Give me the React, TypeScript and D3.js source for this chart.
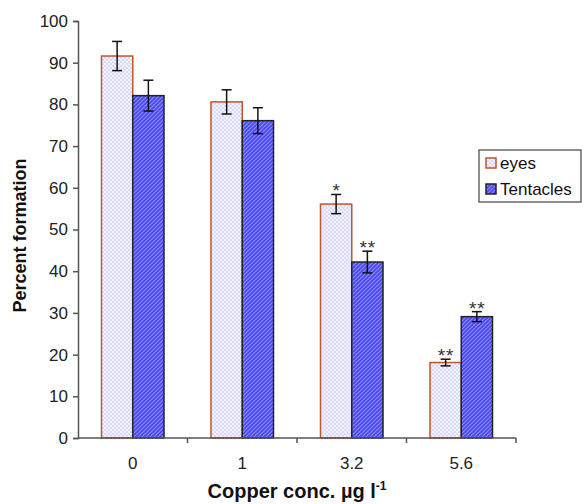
import React, { useEffect, useRef } from 'react';
import * as d3 from 'd3';

const categories = ['0', '1', '3.2', '5.6'];
const eyesValues = [91.6, 80.6, 56.1, 18.1];
const eyesErrors = [3.5, 2.9, 2.3, 0.8];
const tentacleValues = [82.1, 76.1, 42.2, 29.1];
const tentacleErrors = [3.7, 3.1, 2.6, 1.2];
const eyesStars = ['', '', '*', '**'];
const tentacleStars = ['', '', '**', '**'];
const yTicks = [0, 10, 20, 30, 40, 50, 60, 70, 80, 90, 100];
const seriesNames = ['eyes', 'Tentacles'];

const App = () => {
  const ref = useRef<SVGSVGElement>(null);

  useEffect(() => {
    const svg = d3.select(ref.current);
    svg.selectAll('*').remove();

    const margin = { top: 21, right: 67, bottom: 66, left: 78 };
    const width = 583 - margin.left - margin.right;
    const height = 504 - margin.top - margin.bottom;
    const font = 'Arial, "Liberation Sans", sans-serif';

    const defs = svg.append('defs');
    const dots = defs
      .append('pattern')
      .attr('id', 'eyesPat')
      .attr('patternUnits', 'userSpaceOnUse')
      .attr('width', 4)
      .attr('height', 4);
    dots.append('rect').attr('width', 4).attr('height', 4).attr('fill', '#d8d8ff');
    dots.append('rect').attr('x', 0).attr('y', 0).attr('width', 2).attr('height', 2).attr('fill', '#f4f4ff');
    dots.append('rect').attr('x', 2).attr('y', 2).attr('width', 2).attr('height', 2).attr('fill', '#f4f4ff');

    const hatch = defs
      .append('pattern')
      .attr('id', 'tentPat')
      .attr('patternUnits', 'userSpaceOnUse')
      .attr('width', 4)
      .attr('height', 4);
    hatch.append('rect').attr('width', 4).attr('height', 4).attr('fill', '#4848f0');
    hatch
      .append('path')
      .attr('d', 'M-1,1 l2,-2 M0,4 l4,-4 M3,5 l2,-2')
      .attr('stroke', '#8a8aff')
      .attr('stroke-width', 1.2);

    const g = svg.append('g').attr('transform', `translate(${margin.left},${margin.top})`);

    const x = d3.scaleBand().domain(categories).range([0, width]).paddingInner(0).paddingOuter(0);
    const x1 = d3.scaleBand().domain(seriesNames).range([23.5, x.bandwidth() - 23.5]);
    const y = d3.scaleLinear().domain([0, 100]).range([height, 0]);

    const series = [
      { name: 'eyes', values: eyesValues, errors: eyesErrors, stars: eyesStars, fill: 'url(#eyesPat)', stroke: '#c0562a' },
      { name: 'Tentacles', values: tentacleValues, errors: tentacleErrors, stars: tentacleStars, fill: 'url(#tentPat)', stroke: '#222' }
    ];

    series.forEach((s) => {
      categories.forEach((c, i) => {
        const bx = (x(c) ?? 0) + (x1(s.name) ?? 0);
        const bw = x1.bandwidth();
        g.append('rect')
          .attr('x', bx)
          .attr('y', y(s.values[i]))
          .attr('width', bw)
          .attr('height', height - y(s.values[i]))
          .attr('fill', s.fill)
          .attr('stroke', s.stroke)
          .attr('stroke-width', 1.5);
      });
    });

    // error bars + significance stars
    series.forEach((s) => {
      categories.forEach((c, i) => {
        const cx = (x(c) ?? 0) + (x1(s.name) ?? 0) + x1.bandwidth() / 2;
        const top = y(s.values[i] + s.errors[i]);
        const bot = y(s.values[i] - s.errors[i]);
        g.append('line').attr('x1', cx).attr('x2', cx).attr('y1', top).attr('y2', bot).attr('stroke', '#111').attr('stroke-width', 1.5);
        [top, bot].forEach((yy) => {
          g.append('line').attr('x1', cx - 5).attr('x2', cx + 5).attr('y1', yy).attr('y2', yy).attr('stroke', '#111').attr('stroke-width', 1.5);
        });
        if (s.stars[i]) {
          g.append('text')
            .attr('x', cx + 0.5)
            .attr('y', top + 3)
            .attr('text-anchor', 'middle')
            .attr('font-family', font)
            .attr('font-size', 19)
            .attr('letter-spacing', 1)
            .attr('fill', '#333')
            .text(s.stars[i]);
        }
      });
    });

    // Y axis
    const yAxis = g.append('g').call(d3.axisLeft(y).tickValues(yTicks).tickSize(5).tickPadding(5));
    yAxis.select('.domain').attr('stroke', '#555').attr('stroke-width', 1.5);
    yAxis.selectAll('.tick line').attr('stroke', '#555').attr('stroke-width', 1.5);
    yAxis.selectAll('.tick text').attr('font-family', font).attr('font-size', 17).attr('fill', '#222');

    // X axis
    const xAxis = g.append('g').attr('transform', `translate(0,${height})`);
    xAxis.append('line').attr('x1', 0).attr('x2', width).attr('stroke', '#555').attr('stroke-width', 1.5);
    categories.forEach((c) => {
      const end = (x(c) ?? 0) + x.bandwidth();
      xAxis.append('line').attr('x1', end).attr('x2', end).attr('y1', 0).attr('y2', 5).attr('stroke', '#555').attr('stroke-width', 1.5);
      xAxis
        .append('text')
        .attr('x', (x(c) ?? 0) + x.bandwidth() / 2)
        .attr('y', 31)
        .attr('text-anchor', 'middle')
        .attr('font-family', font)
        .attr('font-size', 17)
        .attr('fill', '#222')
        .text(c);
    });

    // axis titles
    svg.append('text')
      .attr('transform', `translate(26,${margin.top + height / 2 + 6}) rotate(-90)`)
      .attr('text-anchor', 'middle')
      .attr('font-family', font)
      .attr('font-weight', 'bold')
      .attr('font-size', 18)
      .attr('fill', '#111')
      .text('Percent formation');

    const xt = svg.append('text')
      .attr('x', margin.left + width / 2)
      .attr('y', 498)
      .attr('text-anchor', 'middle')
      .attr('font-family', font)
      .attr('font-weight', 'bold')
      .attr('font-size', 20)
      .attr('fill', '#111');
    xt.append('tspan').text('Copper conc. µg l');
    xt.append('tspan').attr('dy', -8).attr('font-size', 12).text('-1');

    // legend
    const lg = svg.append('g').attr('transform', 'translate(479,150)');
    lg.append('rect').attr('width', 102).attr('height', 52).attr('fill', '#fff').attr('stroke', '#444').attr('stroke-width', 1.2);
    series.forEach((s, i) => {
      const yy = 8 + i * 26;
      lg.append('rect').attr('x', 7).attr('y', yy).attr('width', 10).attr('height', 10).attr('fill', s.fill).attr('stroke', s.stroke).attr('stroke-width', 1.5);
      lg.append('text')
        .attr('x', 21)
        .attr('y', yy + 11)
        .attr('font-family', font)
        .attr('font-size', 17)
        .attr('fill', '#111')
        .text(s.name);
    });
  }, []);

  return <svg ref={ref} width={583} height={504} style={{ position: 'absolute', left: 0, top: 0 }} />;
};

export default App;
